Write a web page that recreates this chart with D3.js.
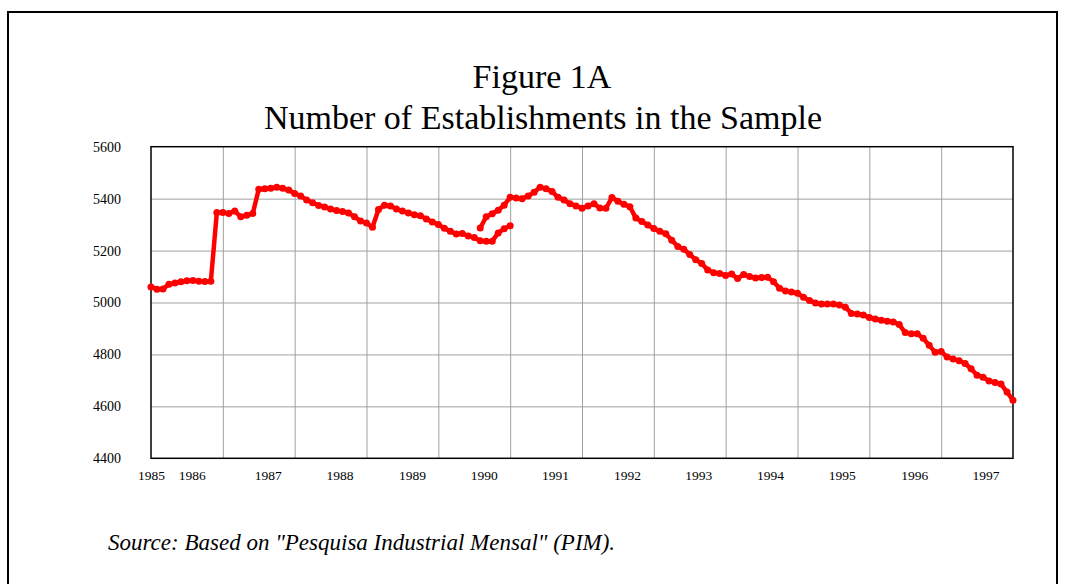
<!DOCTYPE html>
<html>
<head>
<meta charset="utf-8">
<script src="https://cdn.jsdelivr.net/npm/d3@7"></script>
<style>
  body { margin: 0; background: #fff; }
  svg { font-family: "Liberation Serif", "Times New Roman", serif; }
</style>
</head>
<body>
<script>
/* data: monthly counts, month 0 = first observation */
const oldSampleStart = 0;
const oldSample = [
  5060, 5051, 5052, 5070, 5075, 5080, 5084, 5085, 5082, 5081, 5082, 5347,
  5347, 5343, 5352, 5330, 5336, 5343, 5436, 5438, 5440, 5444, 5440, 5433,
  5420, 5410, 5395, 5384, 5374, 5368, 5360, 5354, 5350, 5345, 5330, 5314,
  5306, 5290, 5358, 5375, 5372, 5360, 5352, 5345, 5338, 5334, 5322, 5310,
  5300, 5286, 5274, 5264, 5266, 5256, 5250, 5238, 5236, 5236, 5268, 5284,
  5296
];
const newSampleStart = 55;
const newSample = [
  5287, 5330, 5342, 5355, 5375, 5405, 5402, 5400, 5410, 5425, 5444, 5438,
  5427, 5405, 5395, 5380, 5372, 5363, 5372, 5380, 5364, 5363, 5404, 5390,
  5378, 5369, 5325, 5312, 5298, 5285, 5274, 5265, 5240, 5216, 5205, 5185,
  5165, 5150, 5125, 5115, 5112, 5104, 5110, 5092, 5108, 5100, 5094, 5096,
  5097, 5080, 5055, 5044, 5040, 5036, 5020, 5008, 4998, 4994, 4994, 4994,
  4990, 4982, 4958, 4956, 4952, 4942, 4936, 4932, 4928, 4925, 4915, 4884,
  4880, 4880, 4862, 4835, 4808, 4811, 4790, 4782, 4776, 4765, 4745, 4720,
  4712, 4698, 4692, 4686, 4655, 4624
];
const yearLabels = ["1985", "1986", "1987", "1988", "1989", "1990", "1991",
  "1992", "1993", "1994", "1995", "1996", "1997"];
const yearLabelMonth = [0, 6.8, 19.5, 31.5, 43.6, 55.6, 67.5, 79.5, 91.4,
  103.4, 115.4, 127.5, 139.4];
const gridMonths = [12, 24, 36, 48, 60, 72, 84, 96, 108, 120, 132];
const yTicks = [4400, 4600, 4800, 5000, 5200, 5400, 5600];
/* data */

let width = 1065;
let height = 584;
let margin = { top: 146.7, right: 52, bottom: 125.7, left: 151 };
let plotW = width - margin.left - margin.right;
let plotH = height - margin.top - margin.bottom;

let svg = d3.select("body").append("svg")
  .attr("width", width)
  .attr("height", height);

// outer frame
svg.append("rect")
  .attr("x", 8).attr("y", 12)
  .attr("width", 1049).attr("height", 620)
  .attr("fill", "none")
  .attr("stroke", "#000")
  .attr("stroke-width", 2);

svg.append("text")
  .attr("x", 542).attr("y", 88)
  .attr("text-anchor", "middle")
  .attr("font-size", 34)
  .text("Figure 1A");
svg.append("text")
  .attr("x", 543).attr("y", 129)
  .attr("text-anchor", "middle")
  .attr("font-size", 34)
  .text("Number of Establishments in the Sample");

let g = svg.append("g")
  .attr("transform", "translate(" + margin.left + "," + margin.top + ")");

let x = d3.scaleLinear().domain([0, 144]).range([0, plotW]);
let y = d3.scaleLinear().domain([4400, 5600]).range([plotH, 0]);

// grid
g.append("g")
  .attr("class", "grid-x")
  .attr("transform", "translate(0," + plotH + ")")
  .call(d3.axisBottom(x).tickValues(gridMonths).tickSize(-plotH).tickFormat(""))
  .call(s => s.select(".domain").remove())
  .call(s => s.selectAll("line").attr("stroke", "#a0a0a0"));

g.append("g")
  .attr("class", "grid-y")
  .call(d3.axisLeft(y).tickValues(yTicks.slice(1, -1)).tickSize(-plotW).tickFormat(""))
  .call(s => s.select(".domain").remove())
  .call(s => s.selectAll("line").attr("stroke", "#a0a0a0"));

// plot frame
g.append("rect")
  .attr("width", plotW).attr("height", plotH)
  .attr("fill", "none")
  .attr("stroke", "#000")
  .attr("stroke-width", 1.5);

// axis labels
g.append("g")
  .attr("class", "y-axis")
  .call(d3.axisLeft(y).tickValues(yTicks).tickSize(0).tickPadding(30).tickFormat(d3.format("d")))
  .call(s => s.select(".domain").remove())
  .call(s => s.selectAll("text")
    .attr("font-family", "Liberation Serif")
    .attr("font-size", 14)
    .attr("fill", "#000"));

g.append("g")
  .attr("class", "x-axis")
  .attr("transform", "translate(0," + plotH + ")")
  .call(d3.axisBottom(x).tickValues(yearLabelMonth).tickSize(0).tickPadding(12)
    .tickFormat((d, i) => yearLabels[i]))
  .call(s => s.select(".domain").remove())
  .call(s => s.selectAll("text")
    .attr("font-family", "Liberation Serif")
    .attr("font-size", 13.5)
    .attr("fill", "#000"));

// series
let series = [
  { start: oldSampleStart, values: oldSample },
  { start: newSampleStart, values: newSample }
];
let line = d3.line()
  .x(d => x(d.m))
  .y(d => y(d.v));

series.forEach(s => {
  let pts = s.values.map((v, i) => ({ m: s.start + i, v: v }));
  g.append("path")
    .datum(pts)
    .attr("d", line)
    .attr("fill", "none")
    .attr("stroke", "#ff0000")
    .attr("stroke-width", 4.5)
    .attr("stroke-linejoin", "round")
    .attr("stroke-linecap", "round");
  g.append("g").selectAll("circle")
    .data(pts)
    .join("circle")
    .attr("cx", d => x(d.m))
    .attr("cy", d => y(d.v))
    .attr("r", 3.5)
    .attr("fill", "#ff0000");
});

svg.append("text")
  .attr("x", 108).attr("y", 550)
  .attr("font-size", 23)
  .attr("font-style", "italic")
  .text("Source: Based on \"Pesquisa Industrial Mensal\" (PIM).");
</script>
</body>
</html>
